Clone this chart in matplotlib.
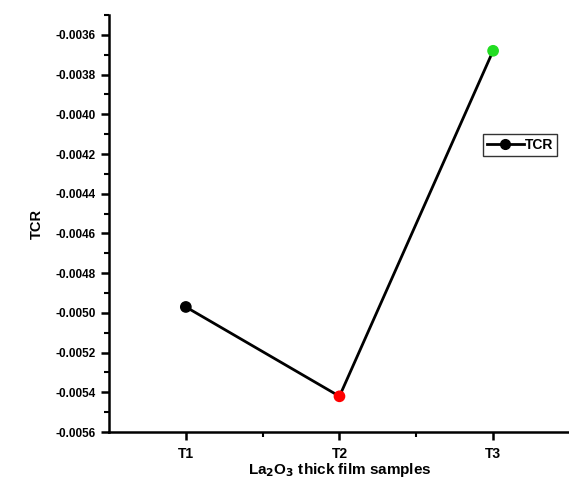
import matplotlib
matplotlib.use('Agg')
import matplotlib.pyplot as plt
from matplotlib.ticker import MultipleLocator, FixedLocator

plt.rcParams['font.family'] = ['Liberation Sans', 'DejaVu Sans']
plt.rcParams['font.weight'] = 'bold'
plt.rcParams['mathtext.default'] = 'bf'

samples = ['T1', 'T2', 'T3']
tcr = [-0.00497, -0.00542, -0.00368]
point_colors = ['black', 'red', '#22dd22']

fig = plt.figure(figsize=(5.69, 4.86), dpi=100)
ax = fig.add_axes([0.1916, 0.111, 0.81, 0.858])

x = list(range(1, len(samples) + 1))
ax.plot(x, tcr, '-', color='black', lw=2, zorder=2)
ax.scatter(x, tcr, s=55, c=point_colors, zorder=3)
# legend proxy
ax.plot([], [], '-o', color='black', lw=2, ms=7, label='TCR')

ax.set_xlim(0.5, 3.5)
ax.set_ylim(-0.0056, -0.0035)
ax.set_xticks(x)
ax.set_xticklabels(samples)
ax.xaxis.set_minor_locator(FixedLocator([1.5, 2.5]))
ax.yaxis.set_major_locator(MultipleLocator(0.0002))
ax.yaxis.set_minor_locator(MultipleLocator(0.0001))
ax.yaxis.set_major_formatter(plt.FuncFormatter(lambda v, p: '{:.4f}'.format(v)))

ax.spines['top'].set_visible(False)
ax.spines['right'].set_visible(False)
ax.spines['left'].set_linewidth(1.8)
ax.spines['bottom'].set_linewidth(1.8)
ax.tick_params(which='major', direction='out', length=6, width=1.8, labelsize=8.5)
ax.tick_params(axis='x', which='major', labelsize=10, pad=5)
ax.tick_params(which='minor', direction='out', length=3.5, width=1.5)

ax.set_ylabel('TCR', fontsize=10.5, fontweight='bold', labelpad=8)
ax.set_xlabel('La$_2$O$_3$ thick film samples', fontsize=11, fontweight='bold', labelpad=0)

leg = ax.legend(loc='upper left', bbox_to_anchor=(0.812, 0.715), frameon=True, fancybox=False,
                fontsize=10, handlelength=2.6, handletextpad=0.1, borderpad=0.3, borderaxespad=0)
leg.get_frame().set_edgecolor('black')
leg.get_frame().set_linewidth(1.0)

fig.savefig('out.png', dpi=100)
